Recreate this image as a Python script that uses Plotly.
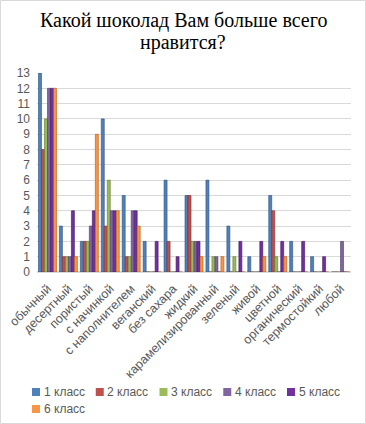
import plotly.graph_objects as go

categories = ["обычный", "десертный", "пористый", "с начинкой", "с наполнителем",
              "веганский", "без сахара", "жидкий", "карамелизированный", "зеленый",
              "живой", "цветной", "органический", "термостойкий", "любой"]
series_names = ["1 класс", "2 класс", "3 класс", "4 класс", "5 класс", "6 класс"]
class1 = [13, 3, 2, 10, 5, 2, 6, 5, 6, 3, 1, 5, 2, 1, 0]
class2 = [8, 1, 2, 3, 1, 0, 2, 5, 0, 0, 0, 4, 0, 0, 0]
class3 = [10, 1, 2, 6, 1, 0, 0, 2, 1, 1, 0, 1, 0, 0, 0]
class4 = [12, 1, 3, 4, 4, 0, 0, 2, 1, 0, 0, 0, 0, 0, 2]
class5 = [12, 4, 4, 4, 4, 2, 1, 2, 0, 2, 2, 2, 2, 1, 0]
class6 = [12, 1, 9, 4, 3, 0, 0, 1, 1, 0, 1, 1, 0, 0, 0]
title_lines = ["Какой шоколад Вам больше всего", "нравится?"]
colors = ["#4F81BD", "#C0504D", "#9BBB59", "#8064A2", "#7030A0", "#F79646"]
edge = ["#2C4D75", "#772C2A", "#5F7530", "#4D3B62", "#3F1A5C", "#B65708"]

W, H = 366, 424
L, R, T, B = 37, 15, 73, 152
pw, ph = W - L - R, H - T - B


def px_x(px):
    return (px - L) / pw


def px_y(py):
    return (H - B - py) / ph


fig = go.Figure()
for name, vals, c, e in zip(series_names, [class1, class2, class3, class4, class5, class6], colors, edge):
    fig.add_trace(go.Bar(x=categories, y=vals, name=name,
                         marker=dict(color=c, line=dict(color=e, width=0.6))))

font = "Liberation Sans, Arial, sans-serif"
fig.update_layout(
    width=W, height=H,
    margin=dict(l=L, r=R, t=T, b=B, autoexpand=False),
    paper_bgcolor="white", plot_bgcolor="white",
    barmode="group", bargap=0.14, bargroupgap=0.0,
    xaxis=dict(tickangle=-45, tickfont=dict(family=font, size=12.5, color="#595959"),
               showgrid=False, showline=False, ticks="", fixedrange=True,
               ticklabelstandoff=6),
    yaxis=dict(range=[0, 13], dtick=1, tickfont=dict(family=font, size=12, color="#595959"),
               showgrid=True, gridcolor="#D9D9D9", gridwidth=1, zeroline=True,
               zerolinecolor="#D9D9D9", showline=False, ticks="", ticklabelstandoff=6,
               fixedrange=True),
    showlegend=False,
)
for i, line in enumerate(title_lines):
    fig.add_annotation(text=line, xref="paper", yref="paper",
                       x=px_x(183), y=px_y(20 + 22 * i),
                       xanchor="center", yanchor="middle", showarrow=False,
                       font=dict(family="Liberation Serif, Times New Roman, serif", size=20, color="black"))

# legend drawn as squares + text
for i, (name, c) in enumerate(zip(series_names, colors)):
    row, col = divmod(i, 5)
    x0 = 32 + 63.75 * col
    yc = 392 + 17 * row
    fig.add_shape(type="rect", xref="paper", yref="paper",
                  x0=px_x(x0), x1=px_x(x0 + 8), y0=px_y(yc + 4), y1=px_y(yc - 4),
                  fillcolor=c, line=dict(width=0))
    fig.add_annotation(text=name, xref="paper", yref="paper",
                       x=px_x(x0 + 9.5), y=px_y(yc), xanchor="left", yanchor="middle",
                       showarrow=False, font=dict(family=font, size=12, color="#595959"))

fig.add_shape(type="rect", xref="paper", yref="paper",
              x0=px_x(0.5), x1=px_x(W - 0.5), y0=px_y(H - 0.5), y1=px_y(0.5),
              line=dict(color="#D9D9D9", width=1), layer="below")

fig.write_html("out.html", config={"displayModeBar": False},
               post_script="document.body.style.margin='0';document.body.style.padding='0';")
